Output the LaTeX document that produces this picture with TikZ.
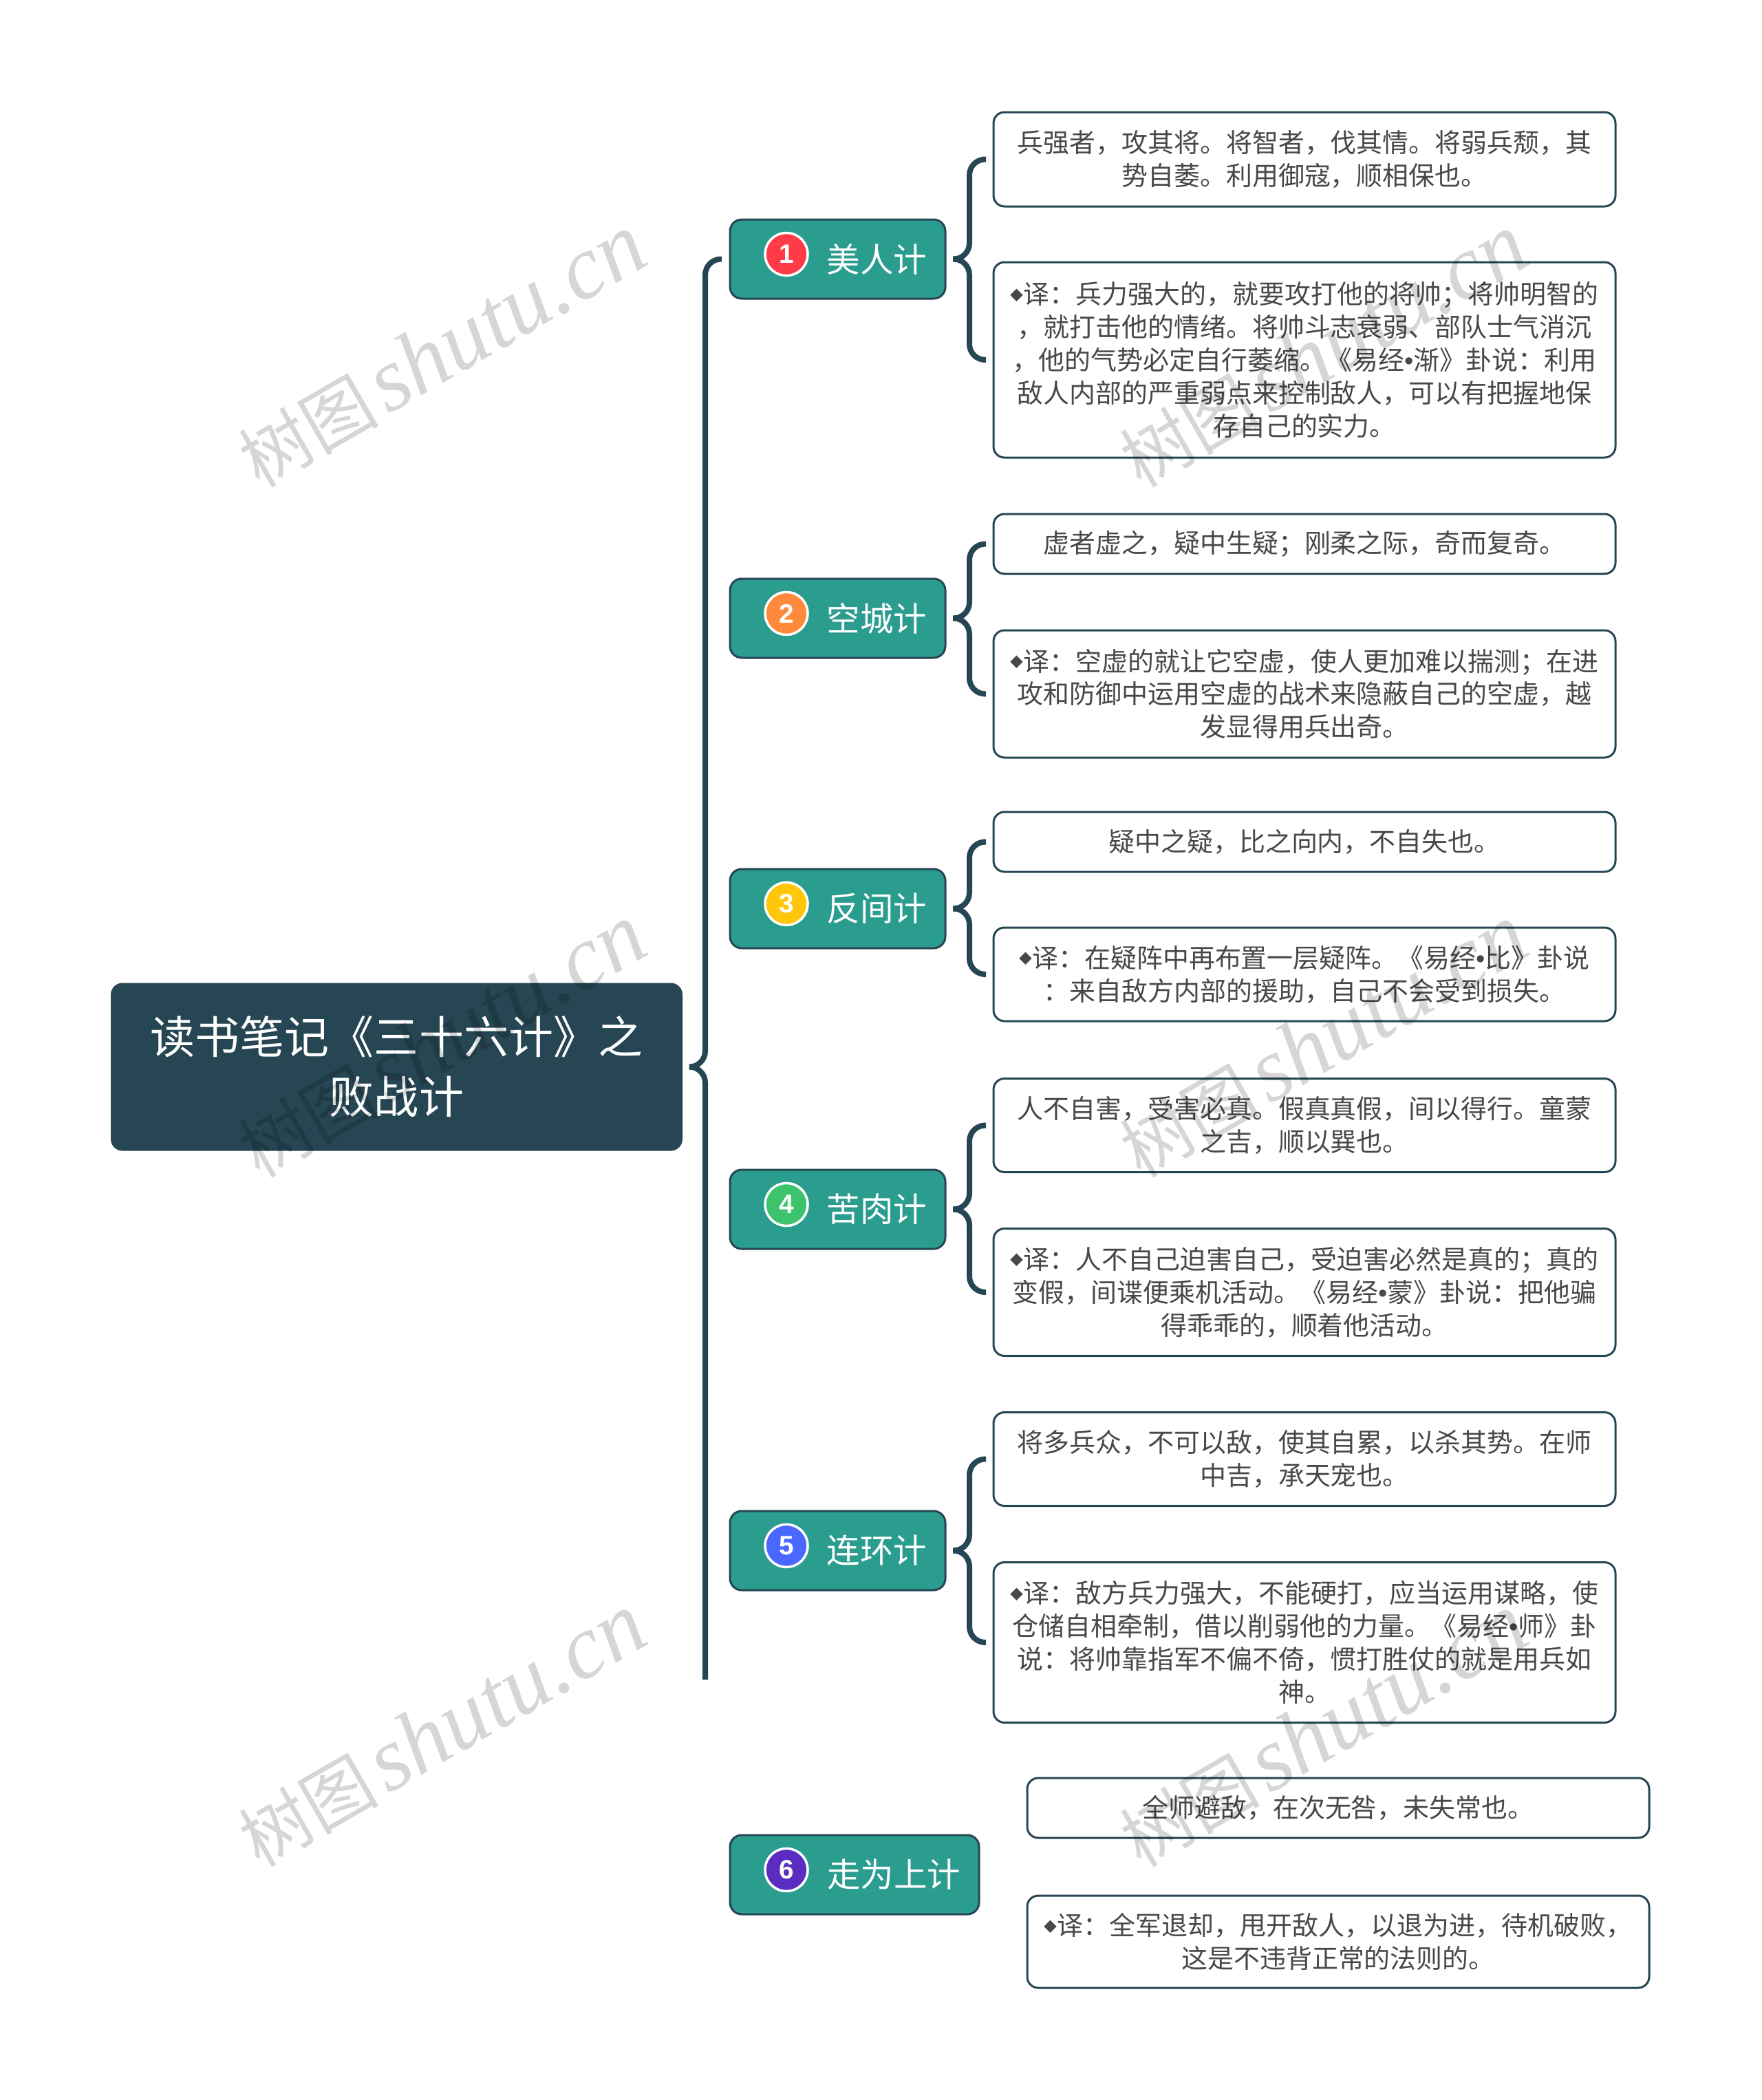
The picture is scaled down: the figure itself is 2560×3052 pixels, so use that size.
\documentclass[tikz,border=0pt]{standalone}
\usepackage{fontspec}
\setmainfont{Noto Sans CJK SC}
\newfontfamily\numfont{Liberation Sans}[BoldFont={Liberation Sans Bold}]
\newfontfamily\wmlatin{Liberation Serif Italic}
\newfontfamily\wmcjk[AutoFakeSlant=0.25]{Noto Sans CJK SC}
\usetikzlibrary{positioning,calc}
\definecolor{rootblue}{HTML}{264653}
\definecolor{branchgreen}{HTML}{2A9D8F}
\definecolor{leaftext}{HTML}{484848}
\definecolor{dotred}{HTML}{FF3B47}
\definecolor{dotorange}{HTML}{FF8A3C}
\definecolor{dotyellow}{HTML}{FFC60A}
\definecolor{dotgreen}{HTML}{3CC46C}
\definecolor{dotblue}{HTML}{4A68FF}
\definecolor{dotpurple}{HTML}{5A2DC0}
\newcommand{\leafmark}{\raisebox{.14em}{\scalebox{.5}{◆}}}
\newcommand{\midbullet}{{\numfont •}}

\begin{document}
\begin{tikzpicture}[
    x=0.1mm, y=-0.1mm,
    rootnode/.style={rounded corners=1.6mm, fill=rootblue, draw=rootblue, line width=0.2mm, outer sep=0pt, inner xsep=0pt, minimum height=24.2mm, text width=82.9mm, align=center, text=white, font=\fontsize{18.5pt}{24.75pt}\selectfont},
    branchnode/.style={rounded corners=1.7mm, fill=branchgreen, draw=rootblue, line width=0.3mm, outer sep=0pt, inner xsep=2.7mm, minimum height=11.5mm, text width=#1, align=right, text=white, font=\fontsize{13.8pt}{16pt}\selectfont},
    leafnode/.style={rounded corners=1.6mm, fill=white, draw=rootblue, line width=0.3mm, outer sep=0pt, inner xsep=2.2mm, inner ysep=0pt, minimum height=#1, text width=86mm, align=center, text=leaftext, font=\fontsize{10.8pt}{13.65pt}\selectfont},
    dotnode/.style={circle, fill=#1, draw=white, line width=0.35mm, minimum size=6.2mm, inner sep=0pt, text=white, font=\numfont\bfseries\fontsize{11pt}{11pt}\selectfont},
    wmnode/.style={rotate=30, text=black, opacity=0.16},
    bracelink/.style={draw=rootblue, line width=0.8mm, rounded corners=2.3mm}
]
\useasboundingbox (0,0) rectangle (2560,3052);

% --- Leaf nodes and branch nodes ---
\node[rootnode] (root) at (576.5,1550.5) {读书笔记《三十六计》之\\败战计};

\node[branchnode=25.9mm, right=7mm of root, yshift=117.4mm] (b1) {美人计};
\node[branchnode=25.9mm, below=40.7mm of b1] (b2) {空城计};
\node[branchnode=25.9mm, below=30.7mm of b2] (b3) {反间计};
\node[branchnode=25.9mm, below=32.2mm of b3] (b4) {苦肉计};
\node[branchnode=25.9mm, below=38.1mm of b4] (b5) {连环计};
\node[branchnode=30.8mm, below=35.6mm of b5.south west, anchor=north west] (b6) {走为上计};

% --- First branch ---
\node[leafnode=13.7mm, right=7mm of b1, yshift=14.5mm] (l1a) {兵强者，攻其将。将智者，伐其情。将弱兵颓，其\\势自萎。利用御寇，顺相保也。};
\node[leafnode=28.4mm, below=8.1mm of l1a] (l1b) {\leafmark 译：兵力强大的，就要攻打他的将帅；将帅明智的\\，就打击他的情绪。将帅斗志衰弱、部队士气消沉\\，他的气势必定自行萎缩。《易经\midbullet 渐》卦说：利用\\敌人内部的严重弱点来控制敌人，可以有把握地保\\存自己的实力。};

% --- Second branch ---
\node[leafnode=8.7mm, right=7mm of b2, yshift=10.8mm] (l2a) {虚者虚之，疑中生疑；刚柔之际，奇而复奇。};
\node[leafnode=18.5mm, below=8.2mm of l2a] (l2b) {\leafmark 译：空虚的就让它空虚，使人更加难以揣测；在进\\攻和防御中运用空虚的战术来隐蔽自己的空虚，越\\发显得用兵出奇。};

% --- Third branch ---
\node[leafnode=8.7mm, right=7mm of b3, yshift=9.7mm] (l3a) {疑中之疑，比之向内，不自失也。};
\node[leafnode=13.6mm, below=8.1mm of l3a] (l3b) {\leafmark 译：在疑阵中再布置一层疑阵。《易经\midbullet 比》卦说\\：来自敌方内部的援助，自己不会受到损失。};

% --- Fourth branch ---
\node[leafnode=13.6mm, right=7mm of b4, yshift=12.2mm] (l4a) {人不自害，受害必真。假真真假，间以得行。童蒙\\之吉，顺以巽也。};
\node[leafnode=18.5mm, below=8.2mm of l4a] (l4b) {\leafmark 译：人不自己迫害自己，受迫害必然是真的；真的\\变假，间谍便乘机活动。《易经\midbullet 蒙》卦说：把他骗\\得乖乖的，顺着他活动。};

% --- Fifth branch ---
\node[leafnode=13.6mm, right=7mm of b5, yshift=13.3mm] (l5a) {将多兵众，不可以敌，使其自累，以杀其势。在师\\中吉，承天宠也。};
\node[leafnode=23.3mm, below=8.2mm of l5a] (l5b) {\leafmark 译：敌方兵力强大，不能硬打，应当运用谋略，使\\仓储自相牵制，借以削弱他的力量。《易经\midbullet 师》卦\\说：将帅靠指军不偏不倚，惯打胜仗的就是用兵如\\神。};

% --- Sixth branch (no brace) ---
\node[leafnode=8.7mm, right=7mm of b6, yshift=9.7mm] (l6a) {全师避敌，在次无咎，未失常也。};
\node[leafnode=13.4mm, below=8.4mm of l6a] (l6b) {\leafmark 译：全军退却，甩开敌人，以退为进，待机破败，\\这是不违背正常的法则的。};

% --- Numbered dots on the branches ---
\foreach \b/\c/\n in {b1/dotred/1,b2/dotorange/2,b3/dotyellow/3,b4/dotgreen/4,b5/dotblue/5,b6/dotpurple/6}{
  \node[dotnode=\c] (dot\n) at ($(\b.west)+(82,-7)$) {\n};
}

% --- Main brace: root to first branch, lower arm stops short ---
\coordinate (roottip) at ($(root.east)+(12,0)$);
\coordinate (mainmid) at ($(root.east)+(34,0)$);
\coordinate (mainend) at (mainmid |- 0,2441);
\draw[bracelink] ($(b1.west)+(-12,0)$) -| (mainmid) -- (roottip);
\draw[bracelink] (mainend) -- (mainmid) -- (roottip);

% --- Small braces: branch to its two leaves ---
\foreach \b/\x/\y in {b1/l1a/l1b,b2/l2a/l2b,b3/l3a/l3b,b4/l4a/l4b,b5/l5a/l5b}{
  \coordinate (tip) at ($(\b.east)+(11,0)$);
  \coordinate (mid) at ($(\b.east)+(35,0)$);
  \draw[bracelink] ($(\x.west)+(-11,0)$) -| (mid) -- (tip);
  \draw[bracelink] ($(\y.west)+(-11,0)$) -| (mid) -- (tip);
}

% --- Watermarks on top of everything ---
\foreach \i/\wx/\wy in {1/642/510,2/1923/510,3/642/1513,4/1923/1513,5/642/2515,6/1923/2515}{
  \node[wmnode] (wm\i) at (\wx,\wy) {{\wmcjk\fontsize{29pt}{29pt}\selectfont 树图}\hspace{1.2mm}{\wmlatin\fontsize{37.5pt}{37.5pt}\selectfont shutu.cn}};
}

\end{tikzpicture}
\end{document}
